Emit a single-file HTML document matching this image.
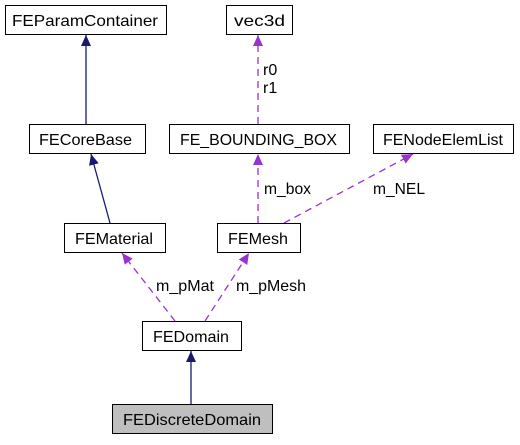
<!DOCTYPE html>
<html><head><style>body{margin:0;background:#fff}</style></head><body>
<svg width="520" height="440" xmlns="http://www.w3.org/2000/svg" font-family="Liberation Sans, Arial, sans-serif" font-size="16">
<defs>
<marker id="n" markerWidth="12" markerHeight="12" refX="11" refY="5" orient="auto" markerUnits="userSpaceOnUse"><path d="M0,0 L11,5 L0,10 z" fill="#191970"/></marker>
<marker id="p" markerWidth="12" markerHeight="12" refX="11" refY="5" orient="auto" markerUnits="userSpaceOnUse"><path d="M0,0 L11,5 L0,10 z" fill="#9a32cd"/></marker>
</defs>
<g stroke="#191970" stroke-width="1.3" fill="none">
<line x1="86" y1="124" x2="86" y2="35" marker-end="url(#n)"/>
<line x1="110" y1="223" x2="91" y2="154" marker-end="url(#n)"/>
<line x1="191" y1="404" x2="191" y2="351" marker-end="url(#n)"/>
</g>
<g stroke="#9a32cd" stroke-width="1.3" fill="none" stroke-dasharray="7,5">
<line x1="258" y1="124" x2="258" y2="35" marker-end="url(#p)"/>
<line x1="258" y1="223" x2="258" y2="154" marker-end="url(#p)"/>
<line x1="284" y1="223" x2="413" y2="154" marker-end="url(#p)"/>
<line x1="175" y1="321" x2="122" y2="253" marker-end="url(#p)"/>
<line x1="205" y1="321" x2="249" y2="253" marker-end="url(#p)"/>
</g>
<g fill="#fff" stroke="#000" stroke-width="1">
<rect x="5.5" y="5.5" width="161" height="29"/>
<rect x="226.5" y="5.5" width="66" height="29"/>
<rect x="29.5" y="124.5" width="116" height="29"/>
<rect x="169.5" y="124.5" width="180" height="29"/>
<rect x="373.5" y="124.5" width="140" height="29"/>
<rect x="64.5" y="223.5" width="101" height="29"/>
<rect x="217.5" y="223.5" width="83" height="29"/>
<rect x="142.5" y="321.5" width="99" height="29"/>
<rect x="112.5" y="404.5" width="160" height="29" fill="#bfbfbf"/>
</g>
<g fill="#000">
<text x="12" y="26" textLength="146" lengthAdjust="spacingAndGlyphs">FEParamContainer</text>
<text x="234" y="26" textLength="51" lengthAdjust="spacingAndGlyphs">vec3d</text>
<text x="39" y="145" textLength="93" lengthAdjust="spacingAndGlyphs">FECoreBase</text>
<text x="180" y="145" textLength="157" lengthAdjust="spacingAndGlyphs">FE_BOUNDING_BOX</text>
<text x="383" y="145" textLength="120" lengthAdjust="spacingAndGlyphs">FENodeElemList</text>
<text x="75" y="244" textLength="78" lengthAdjust="spacingAndGlyphs">FEMaterial</text>
<text x="228" y="244" textLength="60" lengthAdjust="spacingAndGlyphs">FEMesh</text>
<text x="153" y="342" textLength="76" lengthAdjust="spacingAndGlyphs">FEDomain</text>
<text x="123" y="425" textLength="138" lengthAdjust="spacingAndGlyphs">FEDiscreteDomain</text>
<text x="263" y="75">r0</text>
<text x="263" y="93">r1</text>
<text x="264" y="194" textLength="47" lengthAdjust="spacingAndGlyphs">m_box</text>
<text x="373" y="194" textLength="52" lengthAdjust="spacingAndGlyphs">m_NEL</text>
<text x="156" y="291" textLength="58" lengthAdjust="spacingAndGlyphs">m_pMat</text>
<text x="236" y="291" textLength="70" lengthAdjust="spacingAndGlyphs">m_pMesh</text>
</g>
</svg>
</body></html>
